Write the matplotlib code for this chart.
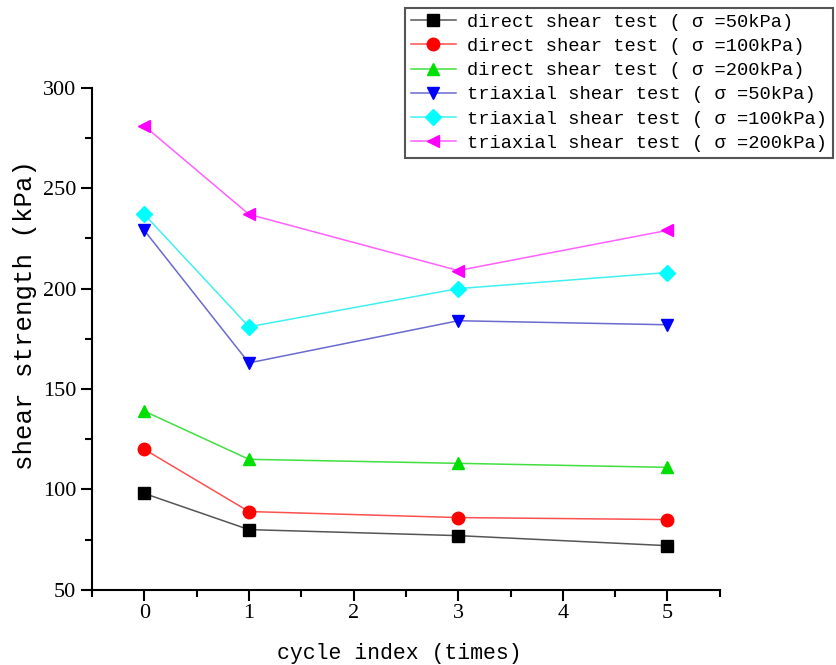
import matplotlib
matplotlib.use("Agg")
import matplotlib.pyplot as plt
from matplotlib.ticker import MultipleLocator

cycles = [0, 1, 3, 5]
direct_50 = [98, 80, 77, 72]
direct_100 = [120, 89, 86, 85]
direct_200 = [139, 115, 113, 111]
triaxial_50 = [229, 163, 184, 182]
triaxial_100 = [237, 181, 200, 208]
triaxial_200 = [281, 237, 209, 229]

labels = [
    "direct shear test ( σ =50kPa)",
    "direct shear test ( σ =100kPa)",
    "direct shear test ( σ =200kPa)",
    "triaxial shear test ( σ =50kPa)",
    "triaxial shear test ( σ =100kPa)",
    "triaxial shear test ( σ =200kPa)",
]
series = [direct_50, direct_100, direct_200, triaxial_50, triaxial_100, triaxial_200]
markers = ["s", "o", "^", "v", "D", "<"]
mcolors = ["#000000", "#ff0000", "#00e000", "#0000ff", "#00ffff", "#ff00ff"]
lcolors = ["#555555", "#ff5050", "#40e040", "#6a6ad0", "#40f0f0", "#ff60ff"]
msizes = [8, 9, 9, 9, 8, 9]

mono = ["Liberation Mono", "DejaVu Sans Mono"]
serif = ["Liberation Serif", "DejaVu Serif"]

fig = plt.figure(figsize=(8.36, 6.65), dpi=100)
ax = fig.add_axes([0.110, 0.113, 0.751, 0.755])

for ys, lab, m, mc, lc, ms in zip(series, labels, markers, mcolors, lcolors, msizes):
    ax.plot(cycles, ys, '-', color=lc, linewidth=1.1, marker=m, markersize=ms,
            markerfacecolor=mc, markeredgecolor=mc, label=lab)

ax.set_xlim(-0.5, 5.5)
ax.set_ylim(50, 300)
ax.xaxis.set_major_locator(MultipleLocator(1))
ax.xaxis.set_minor_locator(MultipleLocator(0.5))
ax.yaxis.set_major_locator(MultipleLocator(50))
ax.yaxis.set_minor_locator(MultipleLocator(25))
ax.spines['top'].set_visible(False)
ax.spines['right'].set_visible(False)
for s in ['left', 'bottom']:
    ax.spines[s].set_linewidth(1.5)
ax.tick_params(which='major', direction='out', length=8, width=1.5, labelsize=16)
ax.tick_params(axis='x', which='major', pad=2)
ax.tick_params(which='minor', direction='out', length=5, width=1.5)
for t in ax.get_xticklabels() + ax.get_yticklabels():
    t.set_family(serif)

ax.set_xlabel("cycle index (times)", family=mono, fontsize=15.5)
ax.set_ylabel("shear strength (kPa)", family=mono, fontsize=18.5)
ax.xaxis.set_label_coords(0.49, -0.105)
ax.yaxis.set_label_coords(-0.087, 0.548)

leg = fig.legend(loc='upper right', bbox_to_anchor=(0.996, 0.988), borderaxespad=0,
                 prop={'family': mono, 'size': 13.5},
                 fancybox=False, edgecolor='#555555', framealpha=1, handlelength=2.4,
                 labelspacing=0.38, borderpad=0.3, handletextpad=0.6)
leg.get_frame().set_linewidth(1.5)

fig.savefig("out.png", dpi=100)
